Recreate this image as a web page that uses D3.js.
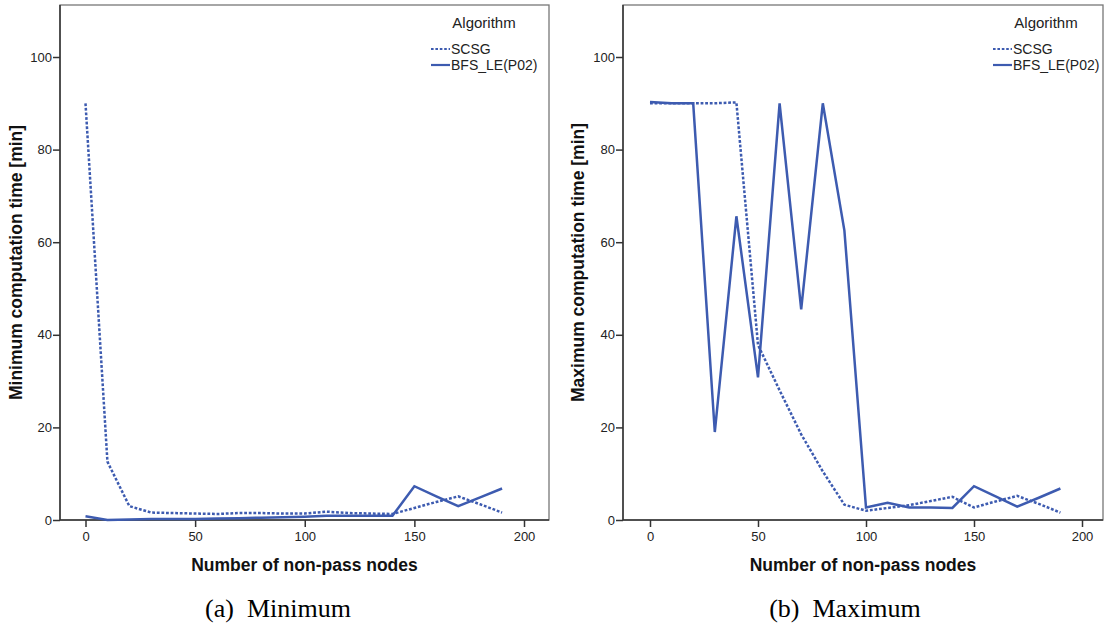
<!DOCTYPE html>
<html>
<head>
<meta charset="utf-8">
<script src="https://cdn.jsdelivr.net/npm/d3@7/dist/d3.min.js"></script>
<style>
  body { margin: 0; background: #fff; }
  svg { display: block; }
</style>
</head>
<body>
<svg id="chart" width="1106" height="628"></svg>
<script>
// ---- data ----
const nodes = [0,10,20,30,40,50,60,70,80,90,100,110,120,130,140,150,160,170,180,190];
const minSCSG = [90, 12.6, 3.0, 1.6, 1.5, 1.4, 1.3, 1.5, 1.5, 1.4, 1.4, 1.8, 1.5, 1.4, 1.3, 2.6, 3.9, 5.1, 3.4, 1.6];
const minBFS  = [0.8, 0.0, 0.1, 0.2, 0.2, 0.2, 0.3, 0.4, 0.5, 0.6, 0.7, 0.9, 0.9, 0.9, 0.9, 7.3, 5.1, 3.0, 4.9, 6.8];
const maxSCSG = [90, 90, 90, 90, 90.2, 37.8, 28, 18.5, 10.5, 3.3, 2.0, 2.6, 3.2, 4.1, 5.0, 2.7, 4.0, 5.2, 3.5, 1.6];
const maxBFS  = [90.3, 90, 90, 19, 65.6, 30.8, 90, 45.5, 90, 62.5, 2.7, 3.7, 2.7, 2.7, 2.6, 7.3, 5.1, 2.9, 4.8, 6.8];
const xTicks = [0, 50, 100, 150, 200];
const yTicks = [0, 20, 40, 60, 80, 100];
const seriesNames = ["SCSG", "BFS_LE(P02)"];
const legendTitle = "Algorithm";
const xLabel = "Number of non-pass nodes";
const panelDefs = [
  { yLabel: "Minimum computation time [min]", caption: "(a)\u00a0 Minimum", s: [minSCSG, minBFS] },
  { yLabel: "Maximum computation time [min]", caption: "(b)\u00a0 Maximum", s: [maxSCSG, maxBFS] }
];

// ---- layout ----
const layouts = [
  { left: 60, right: 549, top: 5, bottom: 520, x0: 85.5, x200: 524, ylab: 22, capX: 278, legX: 431 },
  { left: 623, right: 1103, top: 5, bottom: 520, x0: 650, x200: 1082, ylab: 584, capX: 845, legX: 993 }
];
const lineColor = "#3d5bb0";
const svg = d3.select("#chart");

panelDefs.forEach((p, i) => {
  const L = layouts[i];
  const x = d3.scaleLinear().domain([0, 200]).range([L.x0, L.x200]);
  const y = d3.scaleLinear().domain([0, 100]).range([L.bottom, 57]);
  const g = svg.append("g");

  // frame
  g.append("rect")
    .attr("x", L.left).attr("y", L.top)
    .attr("width", L.right - L.left).attr("height", L.bottom - L.top)
    .attr("fill", "none").attr("stroke", "#777").attr("stroke-width", 1.3);

  // axes
  const xa = g.append("g").attr("transform", `translate(0,${L.bottom})`)
    .call(d3.axisBottom(x).tickValues(xTicks).tickSize(7).tickSizeOuter(0).tickPadding(5));
  xa.select(".domain").remove();
  g.append("line").attr("x1", L.left).attr("x2", L.right).attr("y1", L.bottom).attr("y2", L.bottom)
    .attr("stroke", "#333").attr("stroke-width", 1.5);

  const ya = g.append("g").attr("transform", `translate(${L.left},0)`)
    .call(d3.axisLeft(y).tickValues(yTicks).tickSize(7).tickSizeOuter(0).tickPadding(1));
  ya.select(".domain").remove();
  g.append("line").attr("x1", L.left).attr("x2", L.left).attr("y1", L.top).attr("y2", L.bottom)
    .attr("stroke", "#333").attr("stroke-width", 1.5);

  [xa, ya].forEach(a => {
    a.selectAll(".tick line").attr("stroke", "#333").attr("stroke-width", 1.5);
    a.selectAll(".tick text").attr("fill", "#222")
      .style("font-family", "'Liberation Sans', Arial, sans-serif").style("font-size", "13px");
  });

  // lines
  const line = d3.line().x((d, k) => x(nodes[k])).y(d => y(d));
  g.append("path").datum(p.s[0]).attr("d", line)
    .attr("fill", "none").attr("stroke", lineColor).attr("stroke-width", 2.5)
    .attr("stroke-dasharray", "2.8,1.8");
  g.append("path").datum(p.s[1]).attr("d", line)
    .attr("fill", "none").attr("stroke", lineColor).attr("stroke-width", 2.5)
    .attr("stroke-linejoin", "miter");

  // legend
  const lg = g.append("g").style("font-family", "'Liberation Sans', Arial, sans-serif");
  lg.append("text").attr("x", L.legX + 53).attr("y", 28).attr("text-anchor", "middle")
    .style("font-size", "15px").attr("fill", "#222").text(legendTitle);
  seriesNames.forEach((nm, k) => {
    const yy = 49 + k * 16;
    lg.append("line").attr("x1", L.legX).attr("x2", L.legX + 19).attr("y1", yy).attr("y2", yy)
      .attr("stroke", lineColor).attr("stroke-width", 2.2)
      .attr("stroke-dasharray", k === 0 ? "2.6,1.8" : null);
    lg.append("text").attr("x", L.legX + 20).attr("y", yy + 5)
      .style("font-size", "14px").attr("fill", "#222").text(nm);
  });

  // axis titles
  g.append("text").attr("x", (L.left + L.right) / 2).attr("y", 571).attr("text-anchor", "middle")
    .style("font-family", "'Liberation Sans', Arial, sans-serif").style("font-weight", "bold")
    .style("font-size", "17.5px").attr("fill", "#111").text(xLabel);
  g.append("text").attr("transform", `translate(${L.ylab},${(L.top + L.bottom) / 2}) rotate(-90)`)
    .attr("text-anchor", "middle")
    .style("font-family", "'Liberation Sans', Arial, sans-serif").style("font-weight", "bold")
    .style("font-size", "17.5px").attr("fill", "#111").text(p.yLabel);

  // caption
  g.append("text").attr("x", L.capX).attr("y", 617).attr("text-anchor", "middle")
    .style("font-family", "'Liberation Serif', 'Times New Roman', serif")
    .style("font-size", "26px").attr("fill", "#000").text(p.caption);
});
</script>
</body>
</html>
